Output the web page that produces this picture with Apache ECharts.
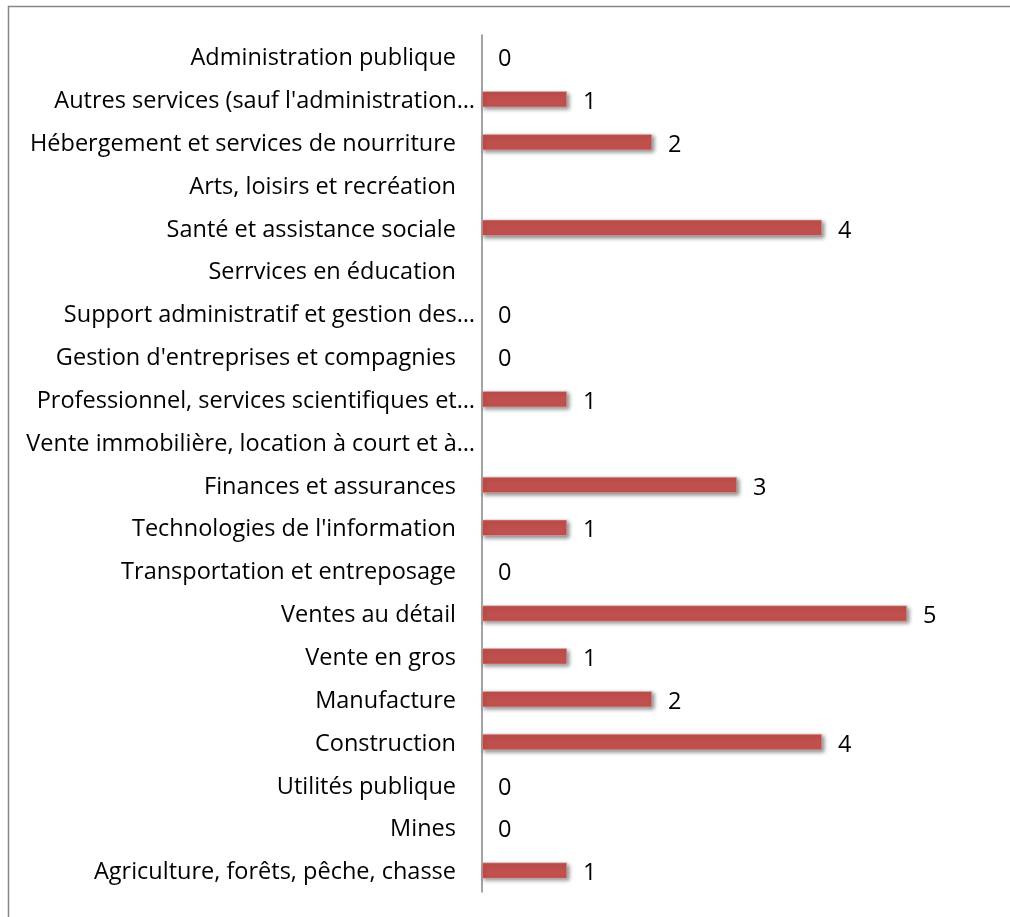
<!DOCTYPE html>
<html>
<head>
<meta charset="utf-8">
<script src="https://cdn.jsdelivr.net/npm/echarts@6/dist/echarts.min.js"></script>
<style>
  html, body { margin: 0; padding: 0; background: #fff; }
  #chart { width: 1010px; height: 917px; }
</style>
</head>
<body>
<div id="chart"></div>
<script>
// Sectors, listed bottom to top as the category axis draws them
const categories = [
  "Agriculture, forêts, pêche, chasse",
  "Mines",
  "Utilités publique",
  "Construction",
  "Manufacture",
  "Vente en gros",
  "Ventes au détail",
  "Transportation et entreposage",
  "Technologies de l'information",
  "Finances et assurances",
  "Vente immobilière, location à court et à…",
  "Professionnel, services scientifiques et…",
  "Gestion d'entreprises et compagnies",
  "Support administratif et gestion des…",
  "Serrvices en éducation",
  "Santé et assistance sociale",
  "Arts, loisirs et recréation",
  "Hébergement et services de nourriture",
  "Autres services (sauf l'administration…",
  "Administration publique"
];

// Count per sector; null = no entry
const counts = [1, 0, 0, 4, 2, 1, 5, 0, 1, 3, null, 1, 0, 0, null, 4, null, 2, 1, 0];

const FONT = "Open Sans";
const FONT_SIZE = 23.5;

// zero-length bars keep only their label, no edge or shadow
const seriesData = counts.map(v => {
  if (v === null) return '-';
  if (v === 0) return { value: 0, itemStyle: { borderWidth: 0, shadowColor: 'transparent' } };
  return v;
});

const chart = echarts.init(document.getElementById('chart'), null, { renderer: 'canvas' });

chart.setOption({
  backgroundColor: '#ffffff',
  animation: false,
  graphic: [{
    type: 'rect',
    shape: { x: 8.5, y: 6.5, width: 1100, height: 1000 },
    style: { fill: 'none', stroke: '#868686', lineWidth: 1.5 },
    silent: true
  }],
  grid: { left: 482, right: 103, top: 35, bottom: 25, containLabel: false },
  xAxis: {
    type: 'value',
    min: 0,
    max: 5,
    show: false
  },
  yAxis: {
    type: 'category',
    data: categories,
    axisLine: { show: true, lineStyle: { color: '#868686', width: 1.5 } },
    axisTick: { show: false },
    axisLabel: {
      color: '#000',
      fontFamily: FONT,
      fontSize: FONT_SIZE,
      margin: 7,
      // truncated names run closer to the axis than full ones
      formatter: name => name.endsWith('…') ? '{t|' + name + '}' : '{n|' + name + '}',
      rich: {
        t: { fontFamily: FONT, fontSize: FONT_SIZE, color: '#000', padding: [4, 0, 0, 0] },
        n: { fontFamily: FONT, fontSize: FONT_SIZE, color: '#000', padding: [4, 19, 0, 0] }
      }
    },
    splitLine: { show: false }
  },
  series: [{
    type: 'bar',
    data: seriesData,
    barWidth: 16,
    itemStyle: {
      color: '#C0504D',
      borderColor: '#E6B9B8',
      borderWidth: 0.5,
      shadowColor: 'rgba(0,0,0,0.45)',
      shadowBlur: 4,
      shadowOffsetX: 2,
      shadowOffsetY: 2
    },
    label: {
      show: true,
      position: 'right',
      distance: 16,
      formatter: '{v|{c}}',
      rich: {
        v: { fontFamily: FONT, fontSize: FONT_SIZE, color: '#000', padding: [6, 0, 0, 0] }
      }
    }
  }]
});
</script>
</body>
</html>
